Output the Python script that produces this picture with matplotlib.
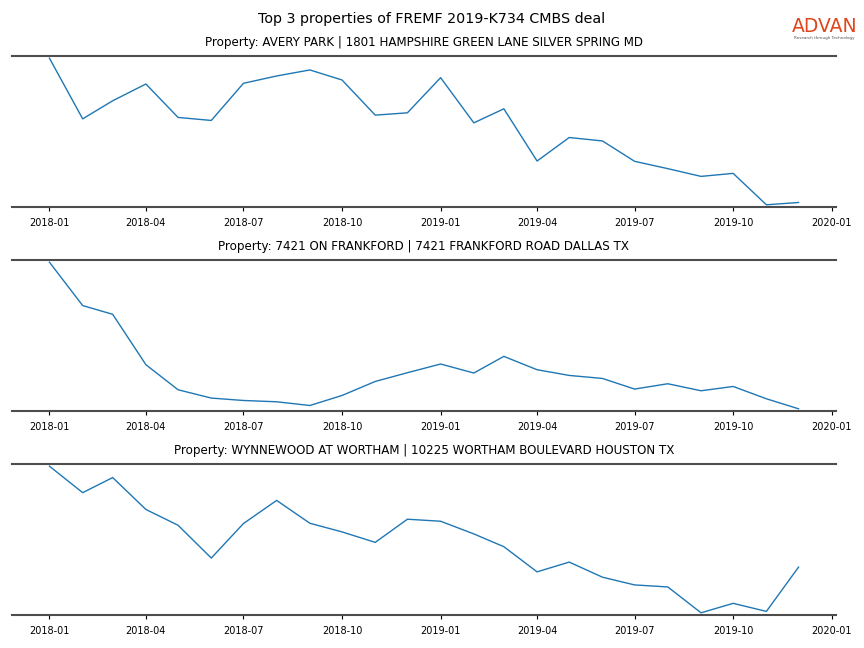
import matplotlib
matplotlib.use("Agg")
import matplotlib.pyplot as plt
import matplotlib.dates as mdates
import pandas as pd

months = pd.date_range("2018-01-01", "2019-12-01", freq="MS")

titles = [
    "Property: AVERY PARK | 1801 HAMPSHIRE GREEN LANE SILVER SPRING MD",
    "Property: 7421 ON FRANKFORD | 7421 FRANKFORD ROAD DALLAS TX",
    "Property: WYNNEWOOD AT WORTHAM | 10225 WORTHAM BOULEVARD HOUSTON TX",
]

# monthly visits per property
avery_park = [1517, 913, 1093, 1260, 927, 897, 1267, 1340, 1400, 1300, 950, 973,
              1323, 873, 1013, 493, 727, 693, 490, 417, 340, 370, 57, 80]
frankford = [1473, 1040, 953, 450, 200, 117, 93, 80, 43, 143, 283, 370,
             457, 367, 533, 400, 343, 313, 207, 260, 190, 233, 110, 10]
wynnewood = [1480, 1217, 1367, 1050, 893, 567, 910, 1140, 913, 827, 723, 953,
             933, 807, 680, 430, 527, 377, 300, 280, 23, 117, 37, 477]

series = [avery_park, frankford, wynnewood]

fig = plt.figure(figsize=(8.64, 6.48), dpi=100)
left, width = 12 / 864, 824 / 864
tops = [56, 260, 464]
h = 151

for i, (vals, title) in enumerate(zip(series, titles)):
    ax = fig.add_axes([left, 1 - (tops[i] + h) / 648, width, h / 648])
    ax.plot(months, vals, color="#1f77b4", linewidth=1)
    ax.margins(x=0.05, y=0.015)
    ax.set_title(title, fontsize=8.6, pad=7)
    for s in ["left", "right"]:
        ax.spines[s].set_visible(False)
    for s in ["top", "bottom"]:
        ax.spines[s].set_color("#4d4d4d")
        ax.spines[s].set_linewidth(1.5)
    ax.set_yticks([])
    ax.xaxis.set_major_locator(mdates.MonthLocator(bymonth=[1, 4, 7, 10]))
    ax.xaxis.set_major_formatter(mdates.DateFormatter("%Y-%m"))
    ax.tick_params(axis="x", labelsize=7, length=3, width=0.8, pad=5)

fig.suptitle("Top 3 properties of FREMF 2019-K734 CMBS deal", fontsize=10.3, y=0.981)

# logo
fig.text(0.9545, 0.959, "ADVAN", color="#e0461c", fontsize=13.5, ha="center", va="center")
fig.text(0.9545, 0.942, "Research through Technology", color="#555555", fontsize=3,
         ha="center", va="center")

fig.savefig("out.png", dpi=100)
